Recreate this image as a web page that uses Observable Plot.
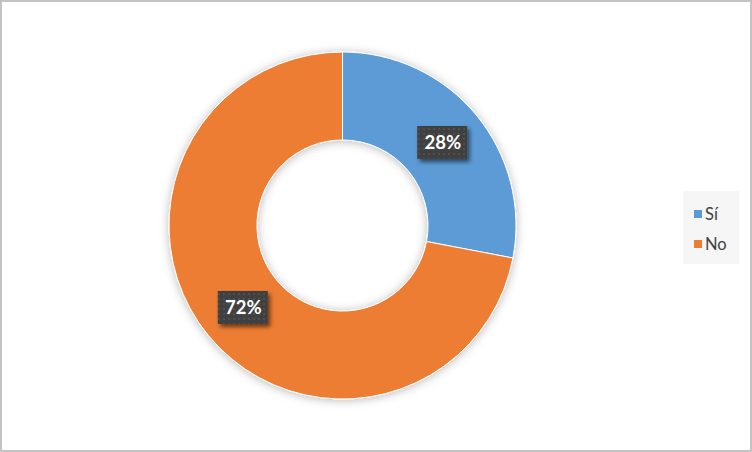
<!DOCTYPE html>
<html>
<head>
<meta charset="utf-8">
<script src="https://cdn.jsdelivr.net/npm/d3@7"></script>
<script src="https://cdn.jsdelivr.net/npm/@observablehq/plot@0.6"></script>
<style>
  html, body { margin: 0; padding: 0; background: #fff; }
  #frame { position: relative; width: 752px; height: 452px; box-sizing: border-box; border: 2px solid #c3c3c3; background: #fff; overflow: hidden; }
  #chart { position: absolute; left: 0; top: 0; }
  #legend { position: absolute; left: 681px; top: 189px; width: 56px; height: 73px; background: #f6f6f6;
            font-family: Lato, "Open Sans", sans-serif; font-size: 16.5px; color: #404040; }
  .item { position: absolute; left: 11px; display: flex; align-items: center; line-height: 1; }
  .sw { width: 8px; height: 8px; margin-right: 3px; }
</style>
</head>
<body>
<div id="frame">
  <div id="chart"></div>
  <div id="legend"></div>
</div>
<script>
// ---- data ----
const categories = ["Sí", "No"];
const values = [28, 72];
const labels = ["28%", "72%"];
const colors = ["#5B9BD5", "#ED7D31"];

const data = categories.map((c, i) => ({category: c, value: values[i], label: labels[i]}));

const W = 748, H = 448;
const cx = 340.5, cy = 223.5, R = 173.5;    // layout (pixels)
const innerRatio = 0.493, labelRatio = 0.746;

const pie = d3.pie().sort(null).value(d => d.value);
const arcs = pie(data);
const labelData = arcs.map(a => {
  const m = (a.startAngle + a.endAngle) / 2;
  return {label: a.data.label, x: labelRatio * Math.sin(m), y: labelRatio * Math.cos(m)};
});

const color = Plot.scale({color: {type: "ordinal", domain: categories, range: colors}});

function donutMark(index, scales, values, dimensions, context) {
  const svgNS = "http://www.w3.org/2000/svg";
  const doc = context.document;
  const g = doc.createElementNS(svgNS, "g");
  const x0 = scales.x(0), y0 = scales.y(0);
  const r = scales.x(1) - x0;
  const defs = doc.createElementNS(svgNS, "defs");
  defs.innerHTML = `
    <filter id="donutShadow" x="-20%" y="-20%" width="140%" height="140%">
      <feDropShadow dx="0" dy="1" stdDeviation="5" flood-color="#000" flood-opacity="0.28"/>
    </filter>`;
  g.appendChild(defs);
  const gg = doc.createElementNS(svgNS, "g");
  gg.setAttribute("transform", `translate(${x0},${y0})`);
  gg.setAttribute("filter", "url(#donutShadow)");
  const arcGen = d3.arc().innerRadius(r * innerRatio).outerRadius(r);
  for (const a of arcs) {
    const p = doc.createElementNS(svgNS, "path");
    p.setAttribute("d", arcGen(a));
    p.setAttribute("fill", color.apply(a.data.category));
    p.setAttribute("stroke", "#fff");
    p.setAttribute("stroke-width", "1");
    gg.appendChild(p);
  }
  g.appendChild(gg);
  return g;
}

function boxMark(index, scales, values, dimensions, context) {
  const svgNS = "http://www.w3.org/2000/svg";
  const doc = context.document;
  const g = doc.createElementNS(svgNS, "g");
  const defs = doc.createElementNS(svgNS, "defs");
  defs.innerHTML = `
    <pattern id="dots" width="5" height="5" patternUnits="userSpaceOnUse">
      <rect width="5" height="5" fill="#3f3f3f"/>
      <rect x="1" y="1" width="2" height="2" fill="#4f4f4f"/>
    </pattern>
    <filter id="boxShadow" x="-30%" y="-30%" width="160%" height="170%">
      <feDropShadow dx="2.5" dy="3" stdDeviation="2" flood-color="#000" flood-opacity="0.55"/>
    </filter>`;
  g.appendChild(defs);
  for (const d of labelData) {
    const px = scales.x(d.x), py = scales.y(d.y);
    const rect = doc.createElementNS(svgNS, "rect");
    rect.setAttribute("x", px - 25);
    rect.setAttribute("y", py - 17);
    rect.setAttribute("width", 50);
    rect.setAttribute("height", 33);
    rect.setAttribute("fill", "url(#dots)");
    rect.setAttribute("filter", "url(#boxShadow)");
    g.appendChild(rect);
  }
  return g;
}

const plot = Plot.plot({
  width: W,
  height: H,
  margin: 0,
  x: {domain: [-cx / R, (W - cx) / R], axis: null},
  y: {domain: [-(H - cy) / R, cy / R], axis: null},
  style: {background: "transparent"},
  marks: [
    donutMark,
    boxMark,
    Plot.text(labelData, {
      x: "x", y: "y", text: "label",
      fill: "#fff", fontSize: 18.5, fontWeight: "bold",
      fontFamily: "Lato, 'Open Sans', sans-serif",
      dy: 0
    })
  ]
});
document.getElementById("chart").appendChild(plot);

// legend
const legend = document.getElementById("legend");
categories.forEach((c, i) => {
  const it = document.createElement("div");
  it.className = "item";
  it.style.top = (15 + i * 30) + "px";
  const sw = document.createElement("span");
  sw.className = "sw";
  sw.style.background = color.apply(c);
  const t = document.createElement("span");
  t.textContent = c;
  it.appendChild(sw); it.appendChild(t);
  legend.appendChild(it);
});
</script>
</body>
</html>
